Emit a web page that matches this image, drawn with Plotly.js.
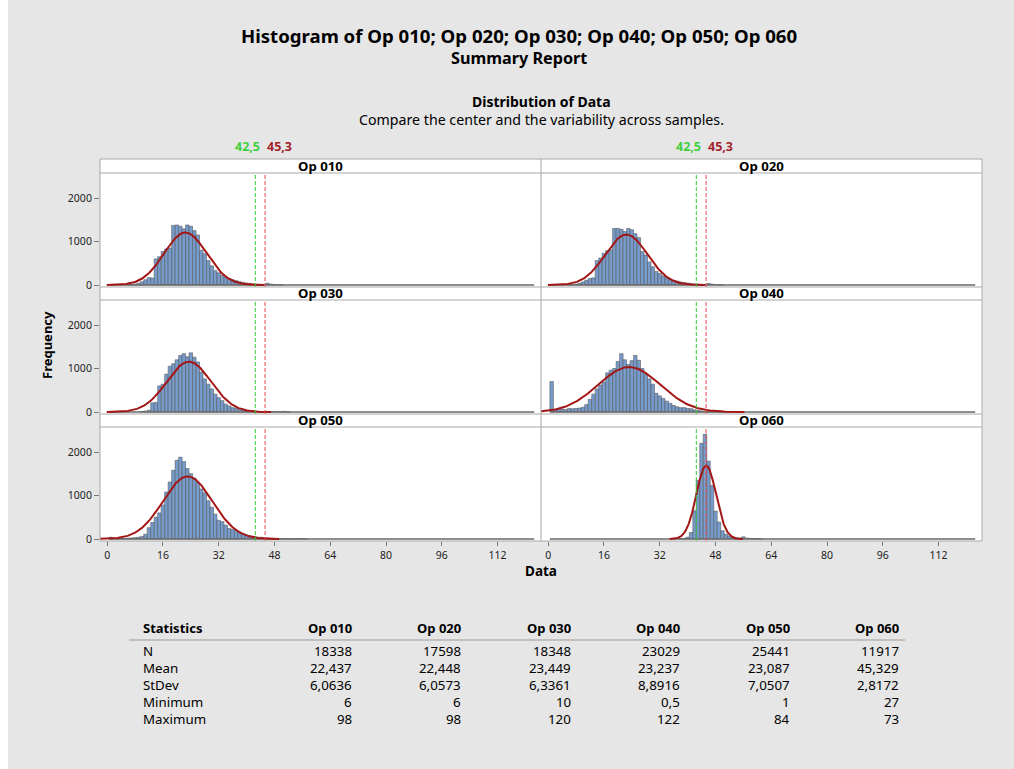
<!DOCTYPE html>
<html><head><meta charset="utf-8">
<script src="https://cdn.plot.ly/plotly-3.0.1.min.js"></script>
<style>html,body{margin:0;padding:0;background:#fff}#chart{width:1014px;height:769px}</style>
</head><body><div id="chart"></div>
<script>
// ---------- data ----------
const opNames = ['Op 010', 'Op 020', 'Op 030', 'Op 040', 'Op 050', 'Op 060'];
const statLabels = ['N', 'Mean', 'StDev', 'Minimum', 'Maximum'];
const statN = [18338, 17598, 18348, 23029, 25441, 11917];
const statMean = [22.437, 22.448, 23.449, 23.237, 23.087, 45.329];
const statStDev = [6.0636, 6.0573, 6.3361, 8.8916, 7.0507, 2.8172];
const statMin = [6, 6, 10, 0.5, 1, 27];
const statMax = [98, 98, 120, 122, 84, 73];
const refLower = 42.5;
const refUpper = 45.3;
const binWidth = 1;

// bar heights (frequency per bin), first bin centre given separately
const op010First = 6;
const op010Counts = [8,12,20,40,75,120,170,160,600,650,770,830,850,1370,1380,1350,1290,1380,1350,1250,1150,800,720,560,440,330,280,220,180,150,120,100,75,60,45,35,25,18,12,10,40,20,8,5,3];
const op020First = 6;
const op020Counts = [8,12,20,40,70,110,150,165,560,620,730,790,810,1300,1300,1280,1230,1300,1270,1180,1090,770,690,530,420,310,265,210,170,135,110,90,70,55,42,32,22,15,10,8,35,20,8,5,3];
const op030First = 10;
const op030Counts = [10,20,40,210,220,600,640,870,1050,1110,1200,1300,1340,1270,1360,1260,1150,920,760,640,530,410,330,260,180,140,100,85,60,50,35,25,18,12,8,6,15,10,6,4,3,15,3];
const op040First = 1;
const op040Counts = [700,60,55,70,55,80,75,80,90,110,170,290,410,530,620,690,900,960,1000,1160,1340,1200,1090,1180,1300,1190,1000,870,760,640,430,370,310,250,200,150,120,100,100,80,75,50,40,25,20,12,8,5,4,3];
const op050First = 1;
const op050Counts = [40,15,20,20,15,20,25,30,40,60,110,260,380,500,600,780,1080,1310,1580,1810,1880,1780,1620,1500,1400,1300,1150,1060,880,730,570,430,400,320,240,220,190,160,110,90,65,60,45,40,30,25,20,15,10,10,8,6,5,5,4,10,3];
const op060First = 38;
const op060Counts = [5,15,40,150,650,1350,2200,2410,1790,1230,640,390,190,110,70,30,25,20,50,20,15,10,8,5];

const xTickVals = [0, 16, 32, 48, 64, 80, 96, 112];
const yTickVals = [0, 1000, 2000];

const seriesFirst = [op010First, op020First, op030First, op040First, op050First, op060First];
const seriesCounts = [op010Counts, op020Counts, op030Counts, op040Counts, op050Counts, op060Counts];

// ---------- geometry (figure pixels) ----------
const W = 1014, H = 769;
const px = v => v / W;
const py = v => 1 - v / H;
const colX = [[100, 541], [541, 982]];
const rowY = [[173, 287], [300, 414], [427, 541]];
const stripY = [[159, 173], [287, 300], [414, 427]];
const xRange = [-2.05, 124.45];
const yRange = [-46, 2575];

const FONT = 'Noto Sans, Open Sans, sans-serif';
const BAR_FILL = '#769ccd';
const BAR_LINE = '#5a5a5a';
const CURVE = '#a31616';
const GRID_LINE = '#a8a8a8';

const data = [];
const layout = {
  width: W, height: H,
  margin: {l: 0, r: 0, t: 0, b: 0},
  paper_bgcolor: '#e6e6e6',
  plot_bgcolor: 'rgba(0,0,0,0)',
  showlegend: false,
  font: {family: FONT, color: '#000'},
  bargap: 0,
  shapes: [],
  annotations: []
};

// white left strip & white panel background
layout.shapes.push({type: 'rect', xref: 'paper', yref: 'paper', x0: 0, x1: px(8), y0: 0, y1: 1,
  fillcolor: '#ffffff', line: {width: 0}, layer: 'below'});
layout.shapes.push({type: 'rect', xref: 'paper', yref: 'paper', x0: px(100), x1: px(982), y0: py(541), y1: py(159),
  fillcolor: '#ffffff', line: {width: 0}, layer: 'below'});

const binStart = Math.min(...statMin);
const binEnd = Math.max(...statMax) + binWidth / 2;

for (let i = 0; i < 6; i++) {
  const r = Math.floor(i / 2), c = i % 2;
  const k = i + 1;
  const xa = 'x' + (k === 1 ? '' : k), ya = 'y' + (k === 1 ? '' : k);
  const xKey = 'xaxis' + (k === 1 ? '' : k), yKey = 'yaxis' + (k === 1 ? '' : k);
  const bottom = r === 2, left = c === 0;
  layout[xKey] = {
    domain: [px(colX[c][0]), px(colX[c][1])], range: xRange, anchor: ya,
    showgrid: false, zeroline: false, showline: false, fixedrange: true,
    tickvals: xTickVals, ticks: bottom ? 'outside' : '', ticklen: 4, tickwidth: 1, tickcolor: '#7a7a7a',
    showticklabels: bottom, tickfont: {size: 10.5, color: '#222', family: FONT}
  };
  layout[yKey] = {
    domain: [py(rowY[r][1]), py(rowY[r][0])], range: yRange, anchor: xa,
    showgrid: false, zeroline: false, showline: false, fixedrange: true,
    tickvals: yTickVals, ticks: left ? 'outside' : '', ticklen: 5, tickwidth: 1, tickcolor: '#7a7a7a',
    showticklabels: left, tickfont: {size: 10.5, color: '#222', family: FONT}
  };

  // empty-bin baseline
  data.push({type: 'scatter', mode: 'lines', x: [binStart, binEnd], y: [0, 0], xaxis: xa, yaxis: ya,
    line: {color: '#6a6a6a', width: 1.4}, hoverinfo: 'skip'});

  // histogram bars
  const counts = seriesCounts[i];
  const centers = counts.map((_, j) => seriesFirst[i] + j * binWidth);
  data.push({type: 'bar', x: centers, y: counts, width: binWidth, xaxis: xa, yaxis: ya,
    marker: {color: BAR_FILL, line: {color: BAR_LINE, width: 0.6}}, hoverinfo: 'x+y'});

  // fitted normal curve from the summary statistics
  const mu = statMean[i], sd = statStDev[i], n = statN[i];
  const z = 3.719;
  const cx = [], cy = [];
  for (let t = 0; t <= 240; t++) {
    const xv = mu - z * sd + (2 * z * sd) * t / 240;
    cx.push(xv);
    cy.push(n * binWidth / (sd * Math.sqrt(2 * Math.PI)) * Math.exp(-0.5 * ((xv - mu) / sd) ** 2));
  }
  data.push({type: 'scatter', mode: 'lines', x: cx, y: cy, xaxis: xa, yaxis: ya,
    line: {color: CURVE, width: 2}, hoverinfo: 'skip'});

  // reference lines
  layout.shapes.push({type: 'line', xref: xa, yref: ya + ' domain', x0: refLower, x1: refLower, y0: 0, y1: 1,
    line: {color: '#33cc33', width: 1, dash: '4px,2px'}});
  layout.shapes.push({type: 'line', xref: xa, yref: ya + ' domain', x0: refUpper, x1: refUpper, y0: 0, y1: 1,
    line: {color: '#e84848', width: 1, dash: '4px,2px'}});

  // strip label
  layout.annotations.push({xref: 'paper', yref: 'paper', x: px((colX[c][0] + colX[c][1]) / 2), y: py((stripY[r][0] + stripY[r][1]) / 2 - 0.5),
    text: '<b>' + opNames[i] + '</b>', showarrow: false, xanchor: 'center', yanchor: 'middle',
    font: {size: 13.2, family: FONT, color: '#000'}});

  // reference value labels on top row
  if (r === 0) {
    layout.annotations.push({xref: xa, yref: 'paper', x: refUpper, y: py(147), xshift: -3,
      text: '<b>' + String(refLower).replace('.', ',') + '</b>', showarrow: false, xanchor: 'right', yanchor: 'middle',
      font: {size: 12.5, family: FONT, color: '#3fcf3f'}});
    layout.annotations.push({xref: xa, yref: 'paper', x: refUpper, y: py(147),
      text: '<b>' + String(refUpper).replace('.', ',') + '</b>', showarrow: false, xanchor: 'left', yanchor: 'middle',
      font: {size: 12.5, family: FONT, color: '#a3232a'}});
  }
}

// frame lines
const hLine = (y) => ({type: 'line', xref: 'paper', yref: 'paper', x0: px(100), x1: px(982), y0: py(y), y1: py(y),
  line: {color: GRID_LINE, width: 1}});
layout.shapes.push({type: 'rect', xref: 'paper', yref: 'paper', x0: px(100), x1: px(982), y0: py(541), y1: py(159),
  line: {color: GRID_LINE, width: 1}});
layout.shapes.push({type: 'line', xref: 'paper', yref: 'paper', x0: px(541), x1: px(541), y0: py(541), y1: py(159),
  line: {color: GRID_LINE, width: 1}});
[173, 287, 300, 414, 427].forEach(y => layout.shapes.push(hLine(y)));

// titles
const ann = (x, y, text, size, opts = {}) => layout.annotations.push(Object.assign({
  xref: 'paper', yref: 'paper', x: px(x), y: py(y), text: text, showarrow: false,
  xanchor: 'center', yanchor: 'middle', font: {size: size, family: FONT, color: '#000'}}, opts));
ann(519, 35, '<b>Histogram of ' + opNames.join('; ') + '</b>', 18.6, {borderpad: 0});
ann(519, 58, '<b>Summary Report</b>', 16.2, {borderpad: 0});
ann(541, 102, '<b>Distribution of Data</b>', 14);
ann(541, 119, 'Compare the center and the variability across samples.', 14.2);
ann(47, 345, '<b>Frequency</b>', 13, {textangle: -90});
ann(541, 571, '<b>Data</b>', 13.5);

// statistics table
const fmt = v => String(v).replace('.', ',');
const colRight = opNames.map((_, i) => 353.5 + i * 109.5);
ann(141, 628, '<b>Statistics</b>', 13, {xanchor: 'left'});
opNames.forEach((o, i) => ann(colRight[i], 628, '<b>' + o + '</b>', 13, {xanchor: 'right'}));
layout.shapes.push({type: 'line', xref: 'paper', yref: 'paper', x0: px(129), x1: px(905), y0: py(640), y1: py(640),
  line: {color: '#9a9a9a', width: 1}});
const statRows = [statN, statMean, statStDev, statMin, statMax];
statLabels.forEach((lab, r) => {
  const y = 651 + r * 17;
  ann(141, y, lab, 13.3, {xanchor: 'left'});
  statRows[r].forEach((v, i) => ann(colRight[i], y, fmt(v), 13.3, {xanchor: 'right'}));
});

Plotly.newPlot('chart', data, layout, {displayModeBar: false, staticPlot: true});
</script>
</body></html>
